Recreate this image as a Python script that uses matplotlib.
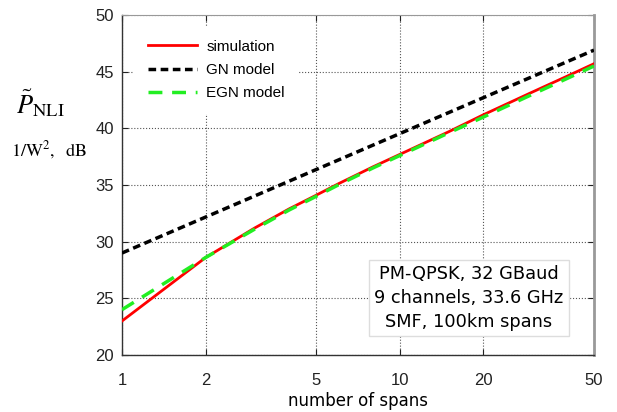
import matplotlib
matplotlib.use("Agg")
import matplotlib.pyplot as plt
from matplotlib.ticker import FixedLocator, FixedFormatter, NullLocator

spans = [1, 2, 3, 4, 5, 6, 8, 10, 15, 20, 30, 40, 50]
simulation = [23.0, 28.6, 31.2, 32.9, 34.1, 35.1, 36.6, 37.7, 39.7, 41.2, 43.2, 44.6, 45.7]
egn_model = [24.0, 28.6, 31.1, 32.8, 34.0, 35.0, 36.5, 37.6, 39.6, 41.0, 43.0, 44.4, 45.5]
gn_spans = [1, 50]
gn_model = [29.0, 46.9]

xticks = [1, 2, 5, 10, 20, 50]
xticklabels = ["1", "2", "5", "10", "20", "50"]
yticks = [20, 25, 30, 35, 40, 45, 50]

plt.rcParams['mathtext.fontset'] = 'stix'

fig = plt.figure(figsize=(6.17, 4.12), dpi=100)
ax = fig.add_axes([0.1977, 0.1383, 0.765, 0.8253])

ax.plot(spans, simulation, color='#ff0000', lw=2.0, label='simulation', zorder=3)
ax.plot(gn_spans, gn_model, color='black', lw=2.5, dashes=(2.2, 1.3), label='GN model', zorder=3)
ax.plot(spans, egn_model, color='#22ee22', lw=2.5, dashes=(4.0, 2.8), label='EGN model', zorder=4)

ax.set_xscale('log')
ax.set_xlim(1, 50)
ax.set_ylim(20, 50)
ax.xaxis.set_major_locator(FixedLocator(xticks))
ax.xaxis.set_major_formatter(FixedFormatter(xticklabels))
ax.xaxis.set_minor_locator(NullLocator())
ax.set_yticks(yticks)
ax.set_yticklabels([str(v) for v in yticks])

for lab in ax.get_xticklabels() + ax.get_yticklabels():
    lab.set_family('Liberation Sans')
    lab.set_fontsize(12)

ax.tick_params(direction='in', length=4, width=0.8, top=True, right=True, pad=6, colors='#222222')
ax.tick_params(axis='x', pad=13)
ax.grid(True, which='major', linestyle=':', color='#555555', lw=0.8)

for side in ['left', 'bottom']:
    ax.spines[side].set_color('#333333')
    ax.spines[side].set_linewidth(1.0)
ax.spines['top'].set_color('#999999')
ax.spines['top'].set_linewidth(0.8)
ax.spines['right'].set_color('#999999')
ax.spines['right'].set_linewidth(2.0)

ax.set_xlabel('number of spans', family='DejaVu Sans', fontsize=12, labelpad=3)

leg = ax.legend(loc='upper left', bbox_to_anchor=(0.01, 0.99), frameon=True,
                handlelength=3.2, handletextpad=0.6, labelspacing=0.6, borderpad=0.9,
                prop={'family': 'Liberation Sans', 'size': 11})
leg.get_frame().set_edgecolor('none')
leg.get_frame().set_facecolor('white')
leg.get_frame().set_alpha(1.0)
leg.get_frame().set_boxstyle('square', pad=0)

ax.text(0.735, 0.168, 'PM-QPSK, 32 GBaud\n9 channels, 33.6 GHz\nSMF, 100km spans',
        transform=ax.transAxes, ha='center', va='center', fontsize=12.8,
        family='DejaVu Sans', linespacing=1.42, zorder=6,
        bbox=dict(boxstyle='square,pad=0.3', facecolor='white', edgecolor='#dddddd', lw=1.0))

fig.text(40 / 617, 1 - 103 / 412, r'$\tilde{P}_{\mathrm{NLI}}$', fontsize=19, ha='center', va='center')
fig.text(49 / 617, 1 - 150 / 412, r'$\mathrm{1/W}^{2}\mathrm{,\ \ dB}$', fontsize=13, ha='center', va='center')

fig.savefig('out.png', dpi=100)
